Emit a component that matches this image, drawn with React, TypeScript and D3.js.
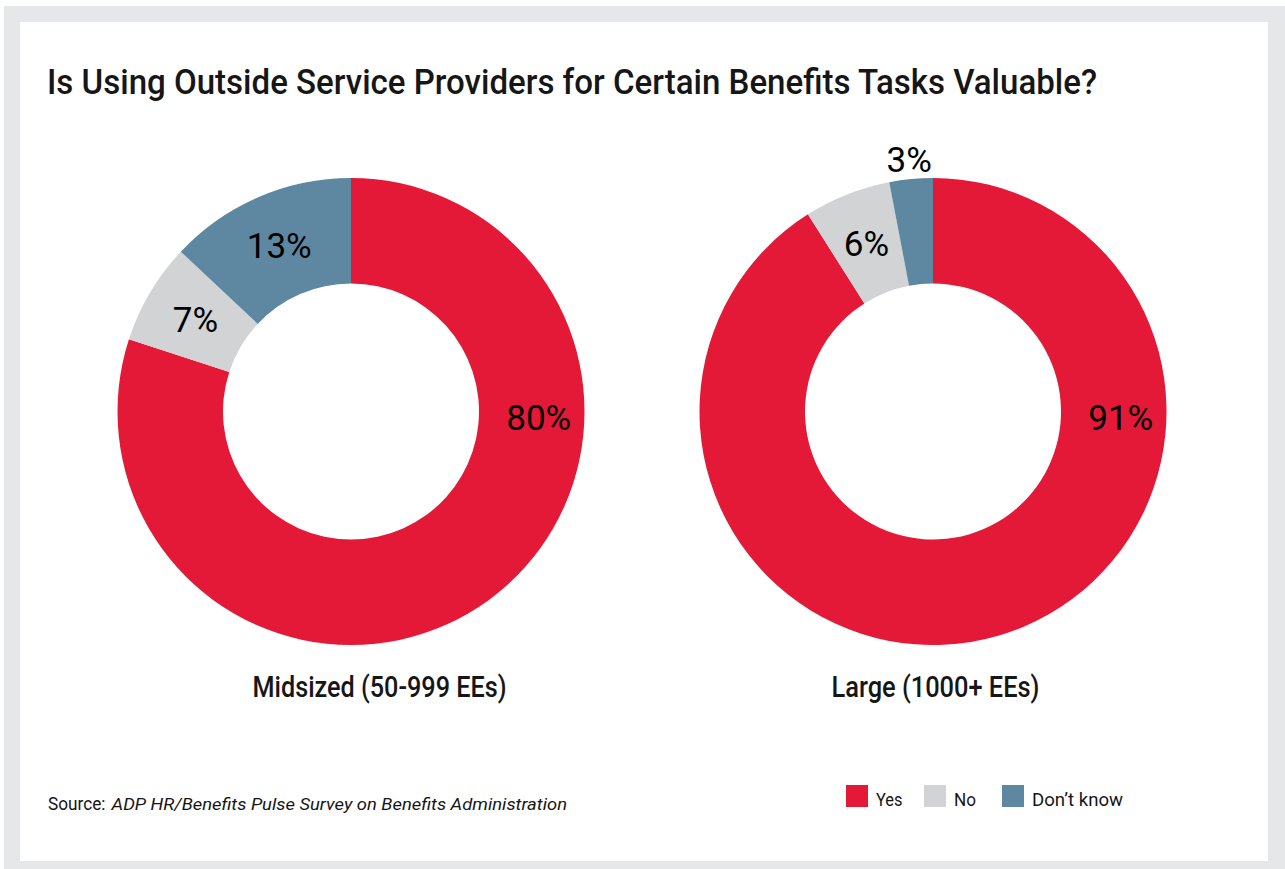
import React from "react";
import * as d3 from "d3";

const title = "Is Using Outside Service Providers for Certain Benefits Tasks Valuable?";
const categories = ["Yes", "No", "Don’t know"];
const groups = ["Midsized (50-999 EEs)", "Large (1000+ EEs)"];
const midsizedValues = [80, 7, 13];
const largeValues = [91, 6, 3];
const seriesValues = [midsizedValues, largeValues];
const colors = ["#E31937", "#D1D3D4", "#5E87A1"];
const sourceLabel = "Source:";
const sourceText = "ADP HR/Benefits Pulse Survey on Benefits Administration";

const W = 1285;
const H = 869;
const FONT = "Roboto, 'Liberation Sans', sans-serif";
const TEXT = "#161616";

export default function App() {
  const cx = d3.scalePoint<string>().domain(groups).range([351, 933]);
  const cy = 411.5;
  const outerR = 233.5;
  const innerR = 128;
  const midR = (outerR + innerR) / 2;

  const pie = d3
    .pie<number>()
    .sort(null)
    .value((d) => d)
    .startAngle(0)
    .endAngle(2 * Math.PI);
  const arc = d3.arc<d3.PieArcDatum<number>>().innerRadius(innerR).outerRadius(outerR);

  const subtitleWidths = [254, 208];
  const subtitleOffset = [-98.5, -101.5];

  const legendX = d3.scaleOrdinal<string, number>().domain(categories).range([846, 924, 1002]);
  const legendWidths = [26.5, 22, 91];

  return (
    <svg
      width={W}
      height={H}
      style={{ position: "absolute", left: 0, top: 0, display: "block" }}
      fontFamily={FONT}
    >
      <rect x={0} y={0} width={W} height={H} fill="#ffffff" />
      <rect x={4} y={6} width={W - 4} height={H - 6} fill="#E6E7E8" />
      <rect x={20} y={22} width={1248} height={839} fill="#ffffff" />

      <text
        x={47}
        y={93.5}
        fontSize={34.5}
        fontWeight={500}
        fill={TEXT}
        textLength={1050}
        lengthAdjust="spacingAndGlyphs"
      >
        {title}
      </text>

      {groups.map((g, gi) => {
        const arcs = pie(seriesValues[gi]);
        const x0 = cx(g) as number;
        return (
          <g key={g}>
            <g transform={`translate(${x0},${cy})`}>
              {arcs.map((a, i) => (
                <path key={categories[i]} d={arc(a) || ""} fill={colors[i]} />
              ))}
              {arcs.map((a, i) => {
                let lx: number;
                let ly: number;
                if (i === 0) {
                  lx = midR + 7;
                  ly = 6;
                } else {
                  const mid = (a.startAngle + a.endAngle) / 2;
                  const r = a.value < 5 ? outerR + 20 : midR;
                  lx = r * Math.sin(mid);
                  ly = -r * Math.cos(mid);
                }
                return (
                  <text
                    key={"l" + i}
                    x={lx}
                    y={ly + 12.5}
                    textAnchor="middle"
                    fontSize={35}
                    fill="#000"
                  >
                    {a.value + "%"}
                  </text>
                );
              })}
            </g>
            <text
              x={x0 + subtitleOffset[gi]}
              y={697}
              fontSize={29}
              fontWeight={500}
              fill={TEXT}
              textLength={subtitleWidths[gi]}
              lengthAdjust="spacingAndGlyphs"
            >
              {g}
            </text>
          </g>
        );
      })}

      <text
        x={48}
        y={810}
        fontSize={17.5}
        fill={TEXT}
        textLength={57.5}
        lengthAdjust="spacingAndGlyphs"
      >
        {sourceLabel}
      </text>
      <text
        x={111.5}
        y={810}
        fontSize={17}
        fontStyle="italic"
        fill={TEXT}
        textLength={455.5}
        lengthAdjust="spacingAndGlyphs"
      >
        {sourceText}
      </text>

      {categories.map((c, i) => (
        <g key={c}>
          <rect x={legendX(c)} y={785} width={22} height={22} fill={colors[i]} />
          <text
            x={(legendX(c) as number) + 30}
            y={806}
            fontSize={19}
            fill={TEXT}
            textLength={legendWidths[i]}
            lengthAdjust="spacingAndGlyphs"
          >
            {c}
          </text>
        </g>
      ))}
    </svg>
  );
}
